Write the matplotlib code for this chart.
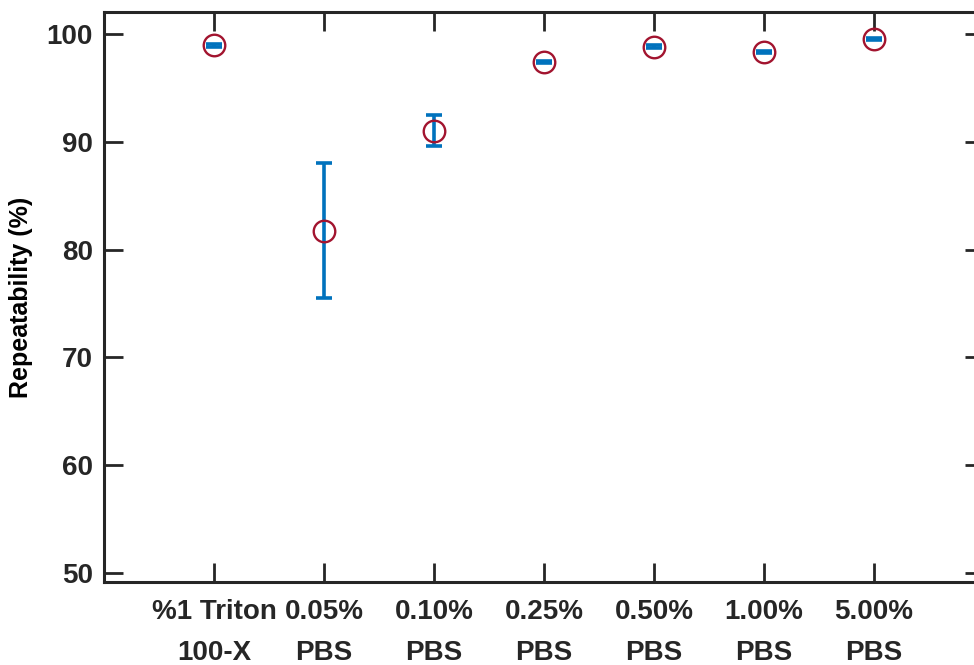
import matplotlib
matplotlib.use('Agg')
import matplotlib.pyplot as plt

plt.rcParams['font.family'] = ['Liberation Sans', 'DejaVu Sans']
plt.rcParams['font.weight'] = 'bold'

# data
labels = ['%1 Triton\n100-X', '0.05%\nPBS', '0.10%\nPBS', '0.25%\nPBS',
          '0.50%\nPBS', '1.00%\nPBS', '5.00%\nPBS']
repeatability = [98.9, 81.75, 91.0, 97.35, 98.8, 98.3, 99.5]
err = [0.1, 6.26, 1.44, 0.1, 0.1, 0.1, 0.1]
x = list(range(1, len(labels) + 1))

blue = '#0072BD'
red = '#A2142F'
dark = '#262626'

fig = plt.figure(figsize=(9.74, 6.65), dpi=100)
ax = fig.add_axes([104 / 974, 83 / 665, 880 / 974, 570 / 665])

ax.errorbar(x, repeatability, yerr=err, fmt='none', ecolor=blue,
            elinewidth=2.6, capsize=6, capthick=2.6, zorder=2)
ax.plot(x, repeatability, 'o', ms=15.5, mfc='none', mec=red, mew=1.7, zorder=3)

ax.set_xlim(0, 8)
ax.set_ylim(49.2, 102)
ax.set_xticks(x)
ax.set_xticklabels(labels, linespacing=1.75, fontsize=21)
ax.set_yticks([50, 60, 70, 80, 90, 100])
ax.set_ylabel('Repeatability (%)', fontsize=18, fontweight='bold', labelpad=10)

ax.tick_params(direction='in', length=14, width=2, colors=dark,
               labelsize=20, top=True, right=True, pad=8)
ax.tick_params(axis='x', pad=12)
ax.tick_params(axis='y', pad=8)
for s in ax.spines.values():
    s.set_linewidth(2.2)
    s.set_color(dark)

fig.savefig('out.png', dpi=100)
